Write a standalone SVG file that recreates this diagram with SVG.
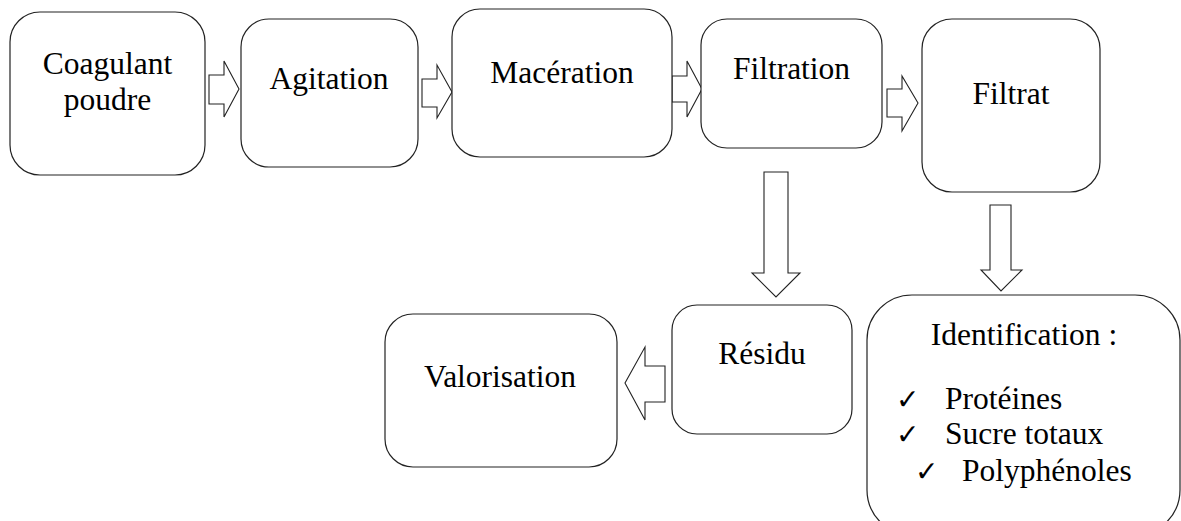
<svg xmlns="http://www.w3.org/2000/svg" width="1181" height="521" viewBox="0 0 1181 521">
<style>
.box{fill:#fff;stroke:#222;stroke-width:1.2}
.arr{fill:#fff;stroke:#222;stroke-width:1.1;stroke-linejoin:miter}
text{font-family:'Liberation Serif','Times New Roman',Tinos,'DejaVu Serif',serif;font-size:31.5px;fill:#000}
.c{text-anchor:middle}
.chk{font-family:'DejaVu Sans',sans-serif;font-size:28px}
</style>
<rect width="1181" height="521" fill="#fff"/>
<g id="connectors">
<polygon class="arr" points="209,75 224,75 224,61 239,89 224,117 224,104 209,104"/>
<polygon class="arr" points="422,79 437,79 437,65 452,92 437,118 437,107 422,107"/>
<polygon class="arr" points="672,76 687,76 687,61 702,89 687,117 687,102 672,102"/>
<polygon class="arr" points="887,89 902,89 902,76 918,103 902,131 902,117 887,117"/>
<polygon class="arr" points="764,172 788,172 788,273 800,273 776,297 752,273 764,273"/>
<polygon class="arr" points="990,205 1011,205 1011,270 1022,270 1001,291 981,270 990,270"/>
<polygon class="arr" points="665,366 645,366 645,347 625,383 645,420 645,402 665,402"/>
</g>
<g id="node-coagulant">
<rect class="box" x="10" y="12" width="195" height="163" rx="30"/>
<text class="c" x="107.5" y="74">Coagulant</text>
<text class="c" x="107.5" y="110">poudre</text>
</g>
<g id="node-agitation">
<rect class="box" x="241" y="19" width="177" height="148" rx="28"/>
<text class="c" x="329" y="89">Agitation</text>
</g>
<g id="node-maceration">
<rect class="box" x="452" y="9" width="220" height="148" rx="28"/>
<text class="c" x="562" y="83">Macération</text>
</g>
<g id="node-filtration">
<rect class="box" x="701" y="19" width="181" height="129" rx="26"/>
<text class="c" x="791.5" y="79">Filtration</text>
</g>
<g id="node-filtrat">
<rect class="box" x="922" y="19" width="178" height="173" rx="30"/>
<text class="c" x="1011" y="104">Filtrat</text>
</g>
<g id="node-residu">
<rect class="box" x="672" y="305" width="180" height="129" rx="25"/>
<text class="c" x="762" y="364">Résidu</text>
</g>
<g id="node-valorisation">
<rect class="box" x="385" y="314" width="232" height="153" rx="28"/>
<text class="c" x="500" y="387">Valorisation</text>
</g>
<g id="node-identification">
<rect class="box" x="867" y="295" width="313" height="240" rx="45"/>
<text class="c" x="1024" y="345">Identification :</text>
<text class="chk" x="896" y="409">✓</text>
<text x="945" y="409">Protéines</text>
<text class="chk" x="896" y="444">✓</text>
<text x="945" y="444">Sucre totaux</text>
<text class="chk" x="915" y="481">✓</text>
<text x="962" y="481">Polyphénoles</text>
</g>
</svg>
